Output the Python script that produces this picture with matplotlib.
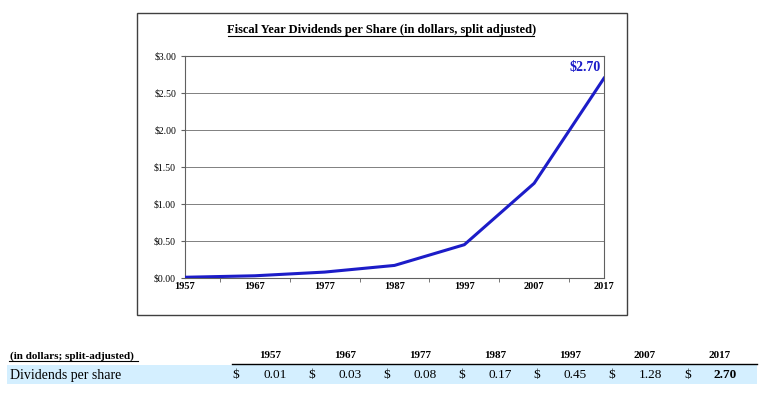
import matplotlib.pyplot as plt
from matplotlib.patches import Rectangle
from matplotlib.lines import Line2D
from matplotlib.ticker import FuncFormatter, MultipleLocator

plt.rcParams['font.family'] = ['Liberation Serif', 'DejaVu Serif']

# data
years = [1957, 1967, 1977, 1987, 1997, 2007, 2017]
dividends = [0.01, 0.03, 0.08, 0.17, 0.45, 1.28, 2.70]
value_labels = ['0.01', '0.03', '0.08', '0.17', '0.45', '1.28', '2.70']

W, H = 765, 395
fig = plt.figure(figsize=(W / 100, H / 100), dpi=100)

def fx(px):
    return px / W

def fy(py):
    return 1 - py / H

# chart frame
fig.patches.append(Rectangle((fx(137), fy(315)), fx(627) - fx(137), fy(13) - fy(315),
                             transform=fig.transFigure, fill=False, edgecolor='#404040', lw=1.0))

ax = fig.add_axes([fx(185), fy(278), fx(604) - fx(185), fy(56) - fy(278)])
ax.plot(years, dividends, color='#1c1cc8', lw=2.2, solid_joinstyle='round', zorder=3)
ax.set_xlim(1957, 2017)
ax.set_ylim(0, 3)
ax.yaxis.set_major_locator(MultipleLocator(0.5))
ax.yaxis.set_major_formatter(FuncFormatter(lambda v, p: f'${v:.2f}'))
ax.set_xticks(years)
ax.set_xticks([y + 5 for y in years[:-1]], minor=True)
ax.tick_params(axis='x', which='major', length=0, pad=3, labelsize=7.5)
ax.tick_params(axis='x', which='minor', length=3, direction='out', color='#606060')
ax.tick_params(axis='y', length=3, labelsize=7, color='#606060')
for lab in ax.get_xticklabels():
    lab.set_fontweight('bold')
ax.grid(axis='y', color='#808080', lw=0.7)
for s in ax.spines.values():
    s.set_color('#606060')
    s.set_linewidth(0.8)

ax.text(years[-1] - 0.5, 2.84, f'${dividends[-1]:.2f}', color='#1c1cc8',
        fontsize=10, fontweight='bold', ha='right', va='center')

# title
fig.text(fx(382), fy(30), 'Fiscal Year Dividends per Share (in dollars, split adjusted)',
         fontsize=9, fontweight='bold', ha='center', va='center')
fig.add_artist(Line2D([fx(228), fx(534)], [fy(36), fy(36)], color='black', lw=0.8))

# table
fig.text(fx(10), fy(356), '(in dollars; split-adjusted)', fontsize=8, fontweight='bold',
         ha='left', va='center')
fig.add_artist(Line2D([fx(9), fx(138)], [fy(361), fy(361)], color='black', lw=0.8))
fig.add_artist(Line2D([fx(232), fx(757)], [fy(364), fy(364)], color='black', lw=1.0))
fig.patches.append(Rectangle((fx(7), fy(384)), fx(757) - fx(7), fy(365) - fy(384),
                             transform=fig.transFigure, facecolor='#d4efff', edgecolor='none'))
fig.text(fx(10), fy(375), 'Dividends per share', fontsize=10, ha='left', va='center')

dollar_x = [236, 312, 387, 462, 537, 612, 688]
value_x = [287, 362, 437, 512, 587, 662, 737]
header_x = [270, 345, 420, 495, 570, 645, 720]
for i, yr in enumerate(years):
    fig.text(fx(header_x[i]), fy(355), str(yr), fontsize=8, fontweight='bold',
             ha='center', va='center')
    fig.text(fx(dollar_x[i]), fy(375), '$', fontsize=9.5, ha='center', va='center')
    last = i == len(years) - 1
    fig.text(fx(value_x[i]), fy(375), value_labels[i], fontsize=9.5, ha='right', va='center',
             fontweight='bold' if last else 'normal')

fig.savefig('out.png', dpi=100)
